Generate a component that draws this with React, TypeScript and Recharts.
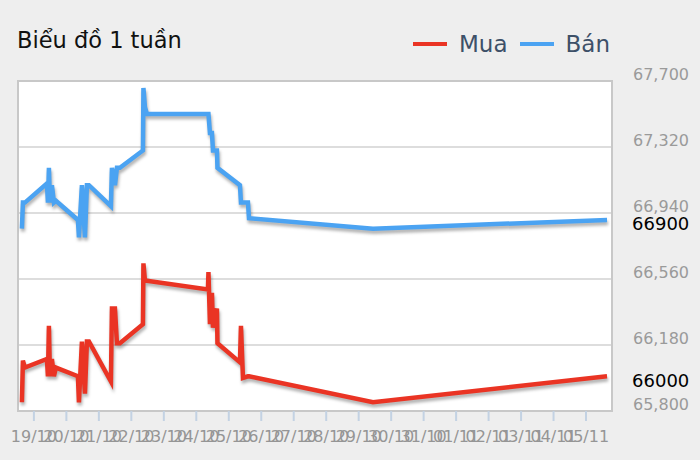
import { CartesianGrid, LabelList, Legend, Line, LineChart, ReferenceArea, XAxis, YAxis } from 'recharts';

// thời điểm cập nhật giá (dd/mm hh:mm)
const times = [
  '18/10 15:07', '18/10 15:52', '18/10 17:21',
  '19/10 09:36', '19/10 10:21', '19/10 11:05', '19/10 11:50', '19/10 13:18', '19/10 14:47', '19/10 16:16',
  '20/10 08:31', '20/10 09:16', '20/10 11:28', '20/10 13:42', '20/10 15:10', '20/10 16:39',
  '21/10 08:54', '21/10 09:39', '21/10 11:53', '21/10 13:21', '21/10 15:34',
  '22/10 08:34', '22/10 08:56', '22/10 10:03', '22/10 11:31',
  '24/10 08:37', '24/10 08:59', '24/10 10:05', '24/10 11:34', '24/10 12:19', '24/10 15:16', '24/10 15:38',
  '25/10 08:15', '25/10 09:00', '25/10 10:29', '25/10 14:11', '25/10 14:56',
  '29/10 10:34', '05/11 15:32',
];

const buyValues = [
  65850, 66090, 66050,
  66100, 66000, 66290, 66000, 66100, 66000, 66050,
  66000, 65850, 66200, 65900, 66200, 66200,
  65970, 66390, 66390, 66190, 66190,
  66300, 66650, 66550, 66550,
  66500, 66600, 66300, 66480, 66280, 66390, 66190,
  66080, 66290, 65990, 66000, 66000,
  65850, 66000,
];

const sellValues = [
  66850, 67000, 67000,
  67110, 67000, 67200, 67000, 67100, 67000, 67010,
  66900, 66800, 67100, 66800, 67100, 67100,
  66980, 67200, 67100, 67200, 67200,
  67300, 67660, 67550, 67510,
  67510, 67510, 67400, 67400, 67300, 67300, 67200,
  67100, 67000, 67000, 67000, 66910,
  66850, 66900,
];

const tickLabels = [
  '19/10', '20/10', '21/10', '22/10', '23/10', '24/10', '25/10', '26/10', '27/10',
  '28/10', '29/10', '30/10', '31/10', '01/11', '02/11', '03/11', '04/11', '05/11',
];

const yTicks = [65800, 66180, 66560, 66940, 67320, 67700];

const seriesNames = ['Mua', 'Bán'];
const seriesColors = ['#ea3424', '#4ba3f2'];

const DAY = 86400000;
const toDay = (s: string) => {
  const [dm, hm = '00:00'] = s.split(' ');
  const [d, m] = dm.split('/').map(Number);
  const [h, mi] = hm.split(':').map(Number);
  return Date.UTC(2023, m - 1, d, h, mi);
};
const origin = toDay(tickLabels[0]);
const toOffset = (s: string) => (toDay(s) - origin) / DAY;

const data = times.map((t, i) => ({ t: toOffset(t), buy: buyValues[i], sell: sellValues[i] }));
const xTicks = tickLabels.map(toOffset);
const lastIndex = data.length - 1;

const FONT = '"DejaVu Sans", sans-serif';

const XTick = ({ x, y, index }: any) => (
  <text x={x} y={y + 13} textAnchor="middle" dominantBaseline="central" fill="#959595" fontSize={16} fontFamily={FONT}>
    {tickLabels[index]}
  </text>
);

const YTick = ({ x, y, payload }: any) => (
  <text x={x + 13} y={y - 7} textAnchor="start" dominantBaseline="central" fill="#9a9a9a" fontSize={16} fontFamily={FONT}>
    {payload.value.toLocaleString('en-US')}
  </text>
);

const lastLabel = ({ x, y, index, value }: any) =>
  index === lastIndex ? (
    <text x={x + 25} y={y + 4} dominantBaseline="central" fill="#000" fontSize={18} fontFamily={FONT}>
      {value}
    </text>
  ) : null;

const LegendContent = () => (
  <div style={{ display: 'flex', alignItems: 'center', fontFamily: FONT, fontSize: 23, color: '#3d5068' }}>
    {seriesNames.map((name, i) => (
      <div key={name} style={{ display: 'flex', alignItems: 'center', marginRight: i === 0 ? 12 : 0 }}>
        <span style={{ display: 'inline-block', width: 34, height: 4, background: seriesColors[i], marginRight: 12 }} />
        <span>{name}</span>
      </div>
    ))}
  </div>
);

export default function App() {
  return (
    <div style={{ position: 'relative', width: 700, height: 460, background: '#eeeeee' }}>
      <style>{`
        body { margin: 0; }
        path.recharts-line-curve { filter: drop-shadow(1px 3px 1.5px rgba(0,0,0,0.3)); }
      `}</style>
      <div style={{ position: 'absolute', left: 17, top: 28, fontFamily: FONT, fontSize: 22.5, lineHeight: '24px', color: '#111' }}>
        Biểu đồ 1 tuần
      </div>
      <LineChart width={700} height={460} data={data} margin={{ top: 81, right: 0, left: 18, bottom: 19 }}>
        <CartesianGrid vertical={false} stroke="#dddddd" strokeWidth={2} fill="#ffffff" />
        <XAxis
          dataKey="t"
          type="number"
          domain={[-0.49, 17.8]}
          ticks={xTicks}
          interval={0}
          height={30}
          tickSize={10}
          tick={<XTick />}
          axisLine={{ stroke: '#c8c8c8', strokeWidth: 2 }}
          tickLine={{ stroke: '#c3d2e3', strokeWidth: 2 }}
        />
        <YAxis
          orientation="right"
          width={88}
          domain={[65800, 67700]}
          ticks={yTicks}
          interval={0}
          tick={<YTick />}
          tickLine={false}
          axisLine={{ stroke: '#c8c8c8', strokeWidth: 2 }}
        />
        <ReferenceArea y1={65800} y2={67700} fill="none" fillOpacity={0} stroke="#c8c8c8" strokeWidth={2} />
        <Legend verticalAlign="middle" wrapperStyle={{ top: 31, left: 413, width: 'auto' }} content={<LegendContent />} />
        <Line
          type="linear"
          dataKey="buy"
          name={seriesNames[0]}
          stroke={seriesColors[0]}
          strokeWidth={4.5}
          dot={false}
          isAnimationActive={false}
        >
          <LabelList dataKey="buy" content={lastLabel} />
        </Line>
        <Line
          type="linear"
          dataKey="sell"
          name={seriesNames[1]}
          stroke={seriesColors[1]}
          strokeWidth={4.5}
          dot={false}
          isAnimationActive={false}
        >
          <LabelList dataKey="sell" content={lastLabel} />
        </Line>
      </LineChart>
    </div>
  );
}
